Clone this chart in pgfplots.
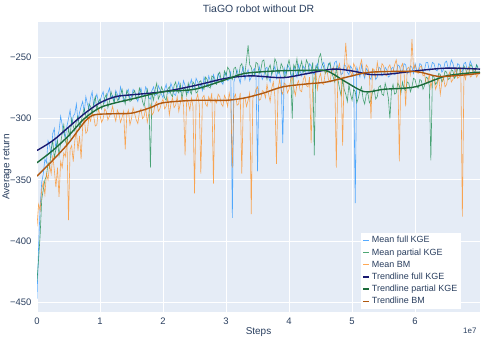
\documentclass[border=0pt]{standalone}
\usepackage{pgfplots}
\usepackage{pgfplotstable}
\pgfplotsset{compat=1.18}
\usepackage{fontspec}
\setmainfont{Liberation Sans}
\definecolor{bgc}{HTML}{E5ECF6}
\definecolor{txt}{HTML}{2A3F5F}
\definecolor{cfull}{HTML}{1E90FF}
\definecolor{cpart}{HTML}{138A48}
\definecolor{cbm}{HTML}{FF8C1A}
\definecolor{tfull}{HTML}{191970}
\definecolor{tpart}{HTML}{1B6B3A}
\definecolor{tbm}{HTML}{B0580F}

\pgfplotstableread{
x f p b
0.000 -447 -433 -388
0.025 -405 -415 -370
0.050 -372 -395 -375
0.075 -352 -366 -358
0.100 -345 -358 -352
0.125 -333 -350 -362
0.150 -336 -347 -345
0.175 -318 -336 -350
0.200 -322 -340 -338
0.225 -330 -325 -345
0.250 -312 -318 -330
0.275 -308 -332 -342
0.300 -326 -325 -356
0.325 -315 -318 -340
0.350 -310 -330 -364
0.375 -298 -320 -335
0.400 -305 -312 -340
0.425 -312 -305 -328
0.450 -315 -318 -331
0.475 -306 -322 -316
0.500 -300 -308 -383
0.525 -293 -315 -325
0.550 -305 -300 -322
0.575 -298 -306 -335
0.600 -296 -310 -318
0.625 -288 -302 -310
0.650 -302 -298 -326
0.675 -295 -308 -314
0.700 -290 -303 -333
0.725 -286 -296 -306
0.750 -295 -292 -300
0.775 -282 -298 -312
0.800 -288 -300 -310
0.825 -292 -288 -298
0.850 -283 -290 -302
0.875 -278 -296 -295
0.900 -290 -287 -298
0.925 -284 -282 -306
0.950 -280 -293 -305
0.975 -287 -286 -292
1.000 -286 -284 -297
1.025 -281 -292 -303
1.050 -278 -289 -300
1.075 -287 -283 -292
1.100 -284 -280 -294
1.125 -279 -291 -301
1.150 -275 -286 -298
1.175 -283 -278 -295
1.200 -281 -283 -290
1.225 -286 -287 -297
1.250 -277 -279 -302
1.275 -280 -285 -293
1.300 -285 -284 -296
1.325 -274 -281 -303
1.350 -279 -276 -299
1.375 -286 -283 -294
1.400 -283 -288 -325
1.425 -278 -277 -297
1.450 -276 -280 -293
1.475 -284 -286 -305
1.500 -282 -285 -300
1.525 -276 -279 -291
1.550 -278 -277 -296
1.575 -283 -284 -301
1.600 -286 -283 -304
1.625 -279 -275 -295
1.650 -275 -279 -292
1.675 -282 -286 -300
1.700 -281 -290 -298
1.725 -274 -281 -291
1.750 -277 -276 -303
1.775 -283 -284 -296
1.800 -284 -340 -289
1.825 -277 -279 -297
1.850 -274 -285 -295
1.875 -281 -276 -288
1.900 -280 -271 -286
1.925 -273 -284 -294
1.950 -276 -281 -292
1.975 -280 -274 -287
2.000 -283 -277 -284
2.025 -276 -283 -292
2.050 -272 -285 -290
2.075 -279 -276 -283
2.100 -279 -274 -297
2.125 -271 -280 -288
2.150 -275 -282 -283
2.175 -280 -273 -291
2.200 -281 -270 -289
2.225 -274 -277 -282
2.250 -270 -279 -294
2.275 -278 -272 -287
2.300 -277 -284 -282
2.325 -269 -276 -289
2.350 -273 -275 -330
2.375 -278 -281 -284
2.400 -279 -271 -287
2.425 -272 -277 -293
2.450 -268 -280 -283
2.475 -276 -270 -290
2.500 -275 -272 -361
2.525 -267 -279 -285
2.550 -270 -278 -280
2.575 -275 -270 -289
2.600 -272 -269 -345
2.625 -277 -275 -283
2.650 -266 -276 -281
2.675 -270 -266 -288
2.700 -274 -268 -290
2.725 -265 -274 -282
2.750 -269 -275 -286
2.775 -273 -265 -279
2.800 -264 -266 -353
2.825 -268 -271 -284
2.850 -271 -272 -287
2.875 -263 -264 -280
2.900 -266 -262 -282
2.925 -270 -269 -288
2.950 -272 -270 -290
2.975 -264 -261 -281
3.000 -262 -265 -284
3.025 -269 -258 -290
3.050 -268 -260 -279
3.075 -261 -266 -286
3.100 -381 -268 -340
3.125 -270 -259 -283
3.150 -265 -258 -280
3.175 -260 -264 -289
3.200 -266 -266 -288
3.225 -271 -257 -279
3.250 -262 -255 -345
3.275 -258 -262 -284
3.300 -268 -263 -283
3.325 -263 -252 -290
3.350 -260 -240 -285
3.375 -269 -256 -279
3.400 -266 -258 -378
3.425 -261 -265 -283
3.450 -259 -264 -281
3.475 -265 -254 -276
3.500 -343 -255 -274
3.525 -257 -263 -285
3.550 -262 -261 -284
3.575 -268 -253 -277
3.600 -265 -252 -278
3.625 -259 -262 -283
3.650 -258 -268 -272
3.675 -266 -259 -280
3.700 -270 -256 -286
3.725 -262 -264 -275
3.750 -261 -260 -270
3.775 -257 -251 -282
3.800 -267 -254 -337
3.825 -260 -263 -276
3.850 -263 -262 -268
3.875 -268 -255 -277
3.900 -320 -258 -280
3.925 -259 -266 -271
3.950 -264 -265 -272
3.975 -256 -257 -279
4.000 -258 -252 -276
4.025 -263 -260 -268
4.050 -266 -300 -266
4.075 -258 -256 -275
4.100 -261 -259 -281
4.125 -266 -251 -272
4.150 -256 -264 -269
4.175 -261 -258 -277
4.200 -265 -253 -278
4.225 -257 -262 -268
4.250 -259 -261 -265
4.275 -264 -252 -273
4.300 -263 -255 -274
4.325 -255 -261 -266
4.350 -257 -263 -320
4.375 -262 -254 -271
4.400 -264 -330 -268
4.425 -258 -257 -262
4.450 -255 -259 -276
4.475 -261 -250 -267
4.500 -261 -247 -263
4.525 -256 -255 -271
4.550 -254 -258 -272
4.575 -260 -263 -262
4.600 -262 -261 -260
4.625 -255 -256 -268
4.650 -256 -254 -270
4.675 -262 -262 -261
4.700 -260 -266 -258
4.725 -254 -270 -266
4.750 -253 -258 -340
4.775 -259 -268 -260
4.800 -258 -275 -255
4.825 -264 -281 -263
4.850 -263 -268 -322
4.875 -256 -276 -259
4.900 -257 -280 -238
4.925 -262 -286 -260
4.950 -264 -272 -256
4.975 -257 -280 -262
5.000 -259 -285 -265
5.025 -265 -276 -255
5.050 -369 -278 -258
5.075 -258 -287 -264
5.100 -262 -283 -263
5.125 -266 -277 -257
5.150 -256 -274 -252
5.175 -263 -284 -261
5.200 -267 -288 -265
5.225 -259 -280 -256
5.250 -261 -279 -258
5.275 -266 -287 -264
5.300 -268 -285 -300
5.325 -260 -278 -259
5.350 -262 -276 -260
5.375 -268 -284 -266
5.400 -266 -282 -254
5.425 -258 -274 -262
5.450 -259 -273 -262
5.475 -265 -280 -255
5.500 -264 -281 -257
5.525 -258 -271 -264
5.550 -260 -276 -265
5.575 -266 -283 -258
5.600 -265 -300 -256
5.625 -259 -277 -262
5.650 -258 -272 -262
5.675 -264 -280 -256
5.700 -263 -279 -252
5.725 -256 -271 -260
5.750 -257 -273 -335
5.775 -262 -279 -258
5.800 -261 -270 -255
5.825 -255 -276 -262
5.850 -256 -277 -290
5.875 -263 -270 -259
5.900 -262 -271 -258
5.925 -257 -278 -264
5.950 -258 -274 -235
5.975 -263 -267 -259
6.000 -255 -268 -256
6.025 -260 -274 -262
6.050 -261 -275 -263
6.075 -255 -268 -258
6.100 -256 -269 -257
6.125 -262 -276 -265
6.150 -260 -273 -264
6.175 -254 -266 -271
6.200 -254 -267 -270
6.225 -261 -273 -264
6.250 -259 -334 -275
6.275 -254 -265 -268
6.300 -255 -266 -268
6.325 -260 -272 -276
6.350 -261 -270 -272
6.375 -255 -263 -266
6.400 -256 -264 -280
6.425 -262 -270 -270
6.450 -260 -268 -266
6.475 -254 -261 -274
6.500 -253 -262 -272
6.525 -259 -268 -265
6.550 -258 -267 -262
6.575 -252 -260 -270
6.600 -255 -261 -268
6.625 -260 -267 -262
6.650 -262 -265 -259
6.675 -255 -259 -267
6.700 -256 -258 -266
6.725 -262 -265 -258
6.750 -261 -264 -380
6.775 -255 -257 -263
6.800 -254 -259 -268
6.825 -260 -264 -260
6.850 -259 -263 -258
6.875 -253 -256 -266
6.900 -256 -257 -265
6.925 -261 -263 -259
6.950 -262 -262 -260
6.975 -256 -256 -266
7.000 -258 -259 -264
}\meandata

\begin{document}
\begin{tikzpicture}
\begin{axis}[
  scale only axis, width=443bp, height=290bp,
  xmin=0, xmax=7.03, ymin=-458, ymax=-221,
  axis background/.style={fill=bgc},
  axis line style={draw=none},
  major tick length=0pt,
  grid=major, grid style={white, line width=0.8pt},
  xtick={0,1,2,3,4,5,6}, xticklabels={0,1,2,3,4,5,6},
  ytick={-450,-400,-350,-300,-250},
  yticklabels={−450,−400,−350,−300,−250},
  ticklabel style={font=\fontsize{9.5}{11}\selectfont, text=txt},
  xticklabel style={yshift=-2bp},
  yticklabel style={xshift=-2bp},
  title={TiaGO robot without DR},
  every axis title/.style={at={(rel axis cs:0.5,1.0448)}, anchor=center, font=\fontsize{10.5}{12}\selectfont, text=txt},
  xlabel={Steps}, ylabel={Average return},
  every axis x label/.style={at={(rel axis cs:0.5,-0.069)}, anchor=center, font=\fontsize{10}{12}\selectfont, text=txt},
  every axis y label/.style={at={(rel axis cs:-0.0677,0.5)}, anchor=center, rotate=90, font=\fontsize{10}{12}\selectfont, text=txt},
  clip=true,
  legend cell align=left,
  legend style={at={(0.957,0.01)}, anchor=south east, fill=white, draw=none,
    font=\fontsize{9}{10}\selectfont, text=txt, inner sep=1.5pt, row sep=0.3pt},
  legend image code/.code={\draw[#1] (0bp,0bp) -- (6bp,0bp);},
]
\addplot[cfull, line width=0.6pt, opacity=0.75] table[x=x, y=f] {\meandata};
\addlegendentry{Mean full KGE}
\addplot[cpart, line width=0.6pt, opacity=0.75] table[x=x, y=p] {\meandata};
\addlegendentry{Mean partial KGE}
\addplot[cbm, line width=0.6pt, opacity=0.75] table[x=x, y=b] {\meandata};
\addlegendentry{Mean BM}
\addplot[tfull, line width=1.4pt, smooth] coordinates {
(0,-326) (0.25,-318) (0.5,-307) (0.75,-296) (1.0,-287) (1.25,-282) (1.5,-280.5) (2.0,-278) (2.5,-273) (3.0,-267) (3.4,-265) (3.9,-266.5) (4.3,-263) (4.7,-259.5) (5.0,-261) (5.3,-264) (5.6,-263.5) (6.0,-261) (6.5,-258.7) (7.03,-259.5)};
\addlegendentry{Trendline full KGE}
\addplot[tpart, line width=1.4pt, smooth] coordinates {
(0,-336) (0.25,-326) (0.5,-314) (0.75,-300) (1.0,-291) (1.25,-287) (1.5,-284) (2.0,-278) (2.5,-276) (3.0,-268) (3.3,-263) (3.8,-261) (4.3,-260.5) (4.6,-261) (4.9,-270) (5.2,-278) (5.5,-276) (6.0,-274) (6.5,-265) (7.03,-262)};
\addlegendentry{Trendline partial KGE}
\addplot[tbm, line width=1.4pt, smooth] coordinates {
(0,-347) (0.25,-334) (0.5,-320) (0.75,-303) (0.9,-297) (1.2,-296) (1.5,-295.5) (1.8,-291) (2.0,-287) (2.5,-285) (3.0,-285) (3.3,-283) (3.6,-279) (3.9,-274) (4.3,-271.5) (4.6,-270) (5.0,-265) (5.3,-262) (6.0,-261.5) (6.4,-265.5) (7.03,-263)};
\addlegendentry{Trendline BM}
\coordinate (O) at (rel axis cs:0,0);
\coordinate (E) at (rel axis cs:1,0);
\end{axis}
\node[anchor=north east, font=\fontsize{8}{9}\selectfont, text=txt] at ([yshift=-12bp]E) {1e7};
\pgfresetboundingbox
\path[use as bounding box] (O) ++(-37bp,-28bp) rectangle ++(498bp,340bp);
\end{tikzpicture}
\end{document}
